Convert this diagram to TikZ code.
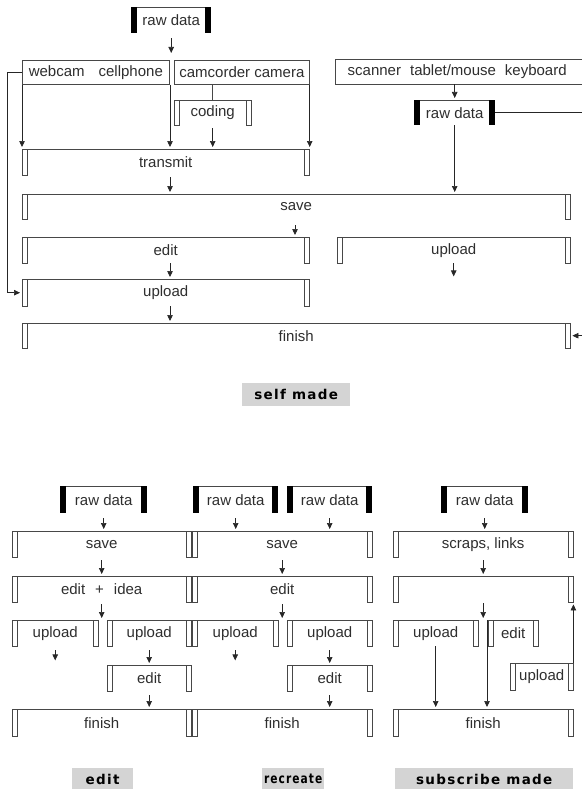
\documentclass[tikz,border=0pt]{standalone}
\usepackage{fontspec}
\setmainfont{Liberation Sans}
\newfontfamily\lblfont[LetterSpace=10]{DejaVu Sans}
\usetikzlibrary{arrows.meta,calc}
\tikzset{
  ln/.style={draw=black!72, line width=0.7pt},
  arr/.style={draw=black!85, line width=0.7pt, -{Triangle[length=6pt,width=5.5pt]}, shorten >=2pt},
  bnode/.style={inner sep=0pt, anchor=north west, font=\fontsize{15}{16}\selectfont, text=black!82},
  rbox/.style={bnode, draw=black!72, line width=0.7pt},
  lbl/.style={fill=black!17, inner sep=0pt, anchor=north west, font=\lblfont\bfseries\fontsize{13.5}{14}\selectfont, text=black}
}
% bracket: name, x, y, width, height, text
\newcommand\bk[6]{%
  \node[bnode, minimum width=#4pt, minimum height=#5pt] (#1) at (#2,#3) {#6};
  \draw[ln] (#1.north west) -- (#1.north east);
  \draw[ln,fill=white] (#1.north west) rectangle ++(5,#5);
  \draw[ln,fill=white] (#1.north east) rectangle ++(-5,#5);
}
% raw data: name, x, y, width, height
\newcommand\rd[5]{%
  \node[bnode, minimum width=#4pt, minimum height=#5pt] (#1) at (#2,#3) {raw data};
  \draw[ln] (#1.north west) -- (#1.north east);
  \fill[black] (#1.north west) rectangle ++(6,#5);
  \fill[black] (#1.north east) rectangle ++(-6,#5);
}
\begin{document}
\begin{tikzpicture}[x=1pt,y=-1pt]
\useasboundingbox (0,0) rectangle (581,789);
% ---------------- self made ----------------
\rd{rdone}{131}{7}{80}{26}
\node[rbox, minimum width=147pt, minimum height=24pt] (web) at (22,60) {webcam\hspace{14pt}cellphone};
\node[rbox, minimum width=135pt, minimum height=24pt] (cam) at (174,60) {camcorder camera};
\bk{cod}{174}{100}{77}{25}{coding}
\bk{tr}{22}{149}{287}{26}{transmit}
\bk{sv}{22}{194}{548}{25}{save}
\bk{ed}{22}{237}{287}{26}{edit}
\bk{up}{22}{279}{287}{27}{upload}
\bk{fin}{22}{323}{548}{25}{finish}
\node[bnode, minimum width=244pt, minimum height=25pt] (scan) at (335,59) {scanner\hspace{9pt}tablet/mouse\hspace{9pt}keyboard};
\draw[ln] ($(scan.north east)+(20,0)$) -- (scan.north west) -- (scan.south west) -- ($(scan.south east)+(20,0)$);
\rd{rdtwo}{414}{100}{81}{25}
\bk{uptwo}{337}{237}{233}{26}{upload}
\node[lbl, minimum width=108pt, minimum height=23pt] (lself) at (242,383) {self made};

\draw[arr, shorten <=5pt, shorten >=7pt] (rdone.south) -- (rdone.south |- web.north);
\draw[arr] (web.south west) -- (web.south west |- tr.north);
\draw[arr] (170,0 |- web.south) -- (170,0 |- tr.north);
\draw[ln] (cod.north |- cam.south) -- (cod.north);
\draw[arr, shorten <=3pt] (cod.south) -- (cod.south |- tr.north);
\draw[arr] (cam.south east) -- (cam.south east |- tr.north);
\draw[arr, shorten <=2pt] (170,0 |- tr.south) -- (170,0 |- sv.north);
\draw[arr, shorten <=6pt] (295,0 |- sv.south) -- (295,0 |- ed.north);
\draw[arr] (170,0 |- ed.south) -- (170,0 |- up.north);
\draw[arr] (170,0 |- up.south) -- (170,0 |- fin.north);
\draw[arr] (web.west) -- (7,0 |- web.west) -- (7,0 |- up.west) -- (up.west);
\draw[arr] (rdtwo.north |- scan.south) -- (rdtwo.north);
\draw[arr] (rdtwo.south) -- (rdtwo.south |- sv.north);
\draw[arr] (rdtwo.east) -- (592,0 |- rdtwo.east) -- (592,0 |- fin.east) -- (fin.east);
\draw[arr, shorten >=0pt] (uptwo.south) -- ++(0,13);

% ---------------- edit ----------------
\rd{rdA}{60}{486}{87}{27}
\bk{svA}{12}{531}{179}{26}{save}
\bk{edA}{12}{576}{179}{26}{edit\hspace{10pt}+\hspace{10pt}idea}
\bk{uAone}{12}{620}{86}{26}{upload}
\bk{uAtwo}{107}{620}{84}{26}{upload}
\bk{eAtwo}{107}{665}{84}{26}{edit}
\bk{fA}{12}{709}{179}{27}{finish}
\node[lbl, minimum width=61pt, minimum height=22pt] (lA) at (72,768) {edit};
\draw[arr, shorten <=5pt] (rdA.south) -- (rdA.south |- svA.north);
\draw[arr, shorten <=3pt] (svA.south) -- (svA.south |- edA.north);
\draw[arr, shorten <=2pt] (edA.south) -- (edA.south |- uAone.north);
\draw[arr, shorten <=4pt, shorten >=0pt] (uAone.south) -- ++(0,14);
\draw[arr, shorten <=4pt] (uAtwo.south) -- (eAtwo.north);
\draw[arr, shorten <=4pt] (eAtwo.south) -- (eAtwo.south |- fA.north);

% ---------------- recreate ----------------
\rd{rdBone}{193}{486}{85}{27}
\rd{rdBtwo}{287}{486}{85}{27}
\bk{svB}{192}{531}{180}{26}{save}
\bk{edB}{192}{576}{180}{26}{edit}
\bk{uBone}{192}{620}{86}{26}{upload}
\bk{uBtwo}{287}{620}{85}{26}{upload}
\bk{eBtwo}{287}{665}{85}{26}{edit}
\bk{fB}{192}{709}{180}{27}{finish}
\node[lbl, minimum width=62pt, minimum height=22pt] (lB) at (262,768) {\scalebox{0.79}[1]{recreate}};
\draw[arr, shorten <=5pt] (rdBone.south) -- (rdBone.south |- svB.north);
\draw[arr, shorten <=5pt] (rdBtwo.south) -- (rdBtwo.south |- svB.north);
\draw[arr, shorten <=3pt] (svB.south) -- (svB.south |- edB.north);
\draw[arr, shorten <=2pt] (edB.south) -- (edB.south |- uBone.north);
\draw[arr, shorten <=4pt, shorten >=0pt] (uBone.south) -- ++(0,14);
\draw[arr, shorten <=4pt] (uBtwo.south) -- (eBtwo.north);
\draw[arr, shorten <=4pt] (eBtwo.south) -- (eBtwo.south |- fB.north);

% ---------------- subscribe made ----------------
\rd{rdC}{441}{486}{87}{27}
\bk{scC}{393}{531}{180}{26}{scraps, links}
\bk{emC}{393}{576}{180}{26}{}
\bk{uCone}{393}{620}{85}{26}{upload}
\bk{eC}{488}{620}{50}{26}{edit}
\bk{uCtwo}{510}{663}{63}{27}{upload}
\bk{fC}{393}{709}{180}{27}{finish}
\node[lbl, minimum width=178pt, minimum height=22pt] (lC) at (395,768) {subscribe made};
\draw[arr, shorten <=5pt] (rdC.south) -- (rdC.south |- scC.north);
\draw[arr, shorten <=3pt] (scC.south) -- (scC.south |- emC.north);
\draw[arr, shorten <=1pt] (emC.south) -- (emC.south |- uCone.north);
\draw[arr] (uCone.south) -- (uCone.south |- fC.north);
\draw[arr] (487,0 |- eC.north) -- (487,0 |- fC.north);
\draw[arr] (uCtwo.north east) -- (uCtwo.north east |- emC.south);
\end{tikzpicture}
\end{document}
